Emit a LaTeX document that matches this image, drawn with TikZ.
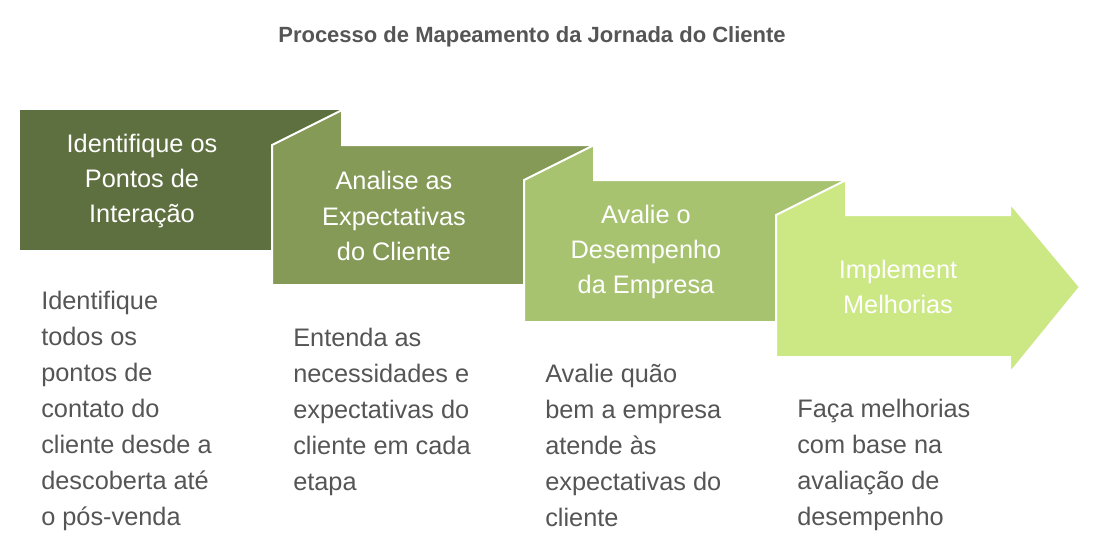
\documentclass[tikz,border=0pt]{standalone}
\usepackage{fontspec}
\setmainfont{Liberation Sans}
\definecolor{cA}{HTML}{5F7040}
\definecolor{cB}{HTML}{849A56}
\definecolor{cC}{HTML}{A8C36F}
\definecolor{cD}{HTML}{CCE884}
\definecolor{txt}{HTML}{555555}
\begin{document}
\begin{tikzpicture}[x=0.75pt,y=-0.75pt,
  band/.style={draw=white,line width=1.5pt,line join=miter},
  head/.style={text=white,font=\fontsize{19}{26.5}\selectfont,align=center},
  desc/.style={text=txt,font=\fontsize{19}{27}\selectfont,align=left,anchor=north west,inner sep=0pt}]
\useasboundingbox (0,0) rectangle (1102,558);
\node[text=txt,font=\bfseries\fontsize{16.5}{20}\selectfont] (title) at (532,37) {Processo de Mapeamento da Jornada do Cliente};
\fill[cA] (20,110) rectangle (342,250);
\filldraw[band,fill=cB] (272,145) -- (342,110) -- (342,145) -- (594,145) -- (594,285) -- (272,285) -- cycle;
\filldraw[band,fill=cC] (524,180) -- (594,145) -- (594,180) -- (846,180) -- (846,322) -- (524,322) -- cycle;
\filldraw[band,fill=cD] (776,215) -- (846,180) -- (846,215) -- (1010,215) -- (1010,203) -- (1080,287) -- (1010,373) -- (1010,357) -- (776,357) -- cycle;
\node[head] (h1) at (142,181) {Identifique os\\Pontos de\\Interação};
\node[head] (h2) at (394,216) {Analise as\\Expectativas\\do Cliente};
\node[head] (h3) at (646,252) {Avalie o\\Desempenho\\da Empresa};
\node[head] (h4) at (898,287) {Implement\\Melhorias};
\node[desc] (d1) at (41,291) {Identifique\\todos os\\pontos de\\contato do\\cliente desde a\\descoberta até\\o pós-venda};
\node[desc] (d2) at (293,328) {Entenda as\\necessidades e\\expectativas do\\cliente em cada\\etapa};
\node[desc] (d3) at (545,364) {Avalie quão\\bem a empresa\\atende às\\expectativas do\\cliente};
\node[desc] (d4) at (797,399) {Faça melhorias\\com base na\\avaliação de\\desempenho};
\end{tikzpicture}
\end{document}
